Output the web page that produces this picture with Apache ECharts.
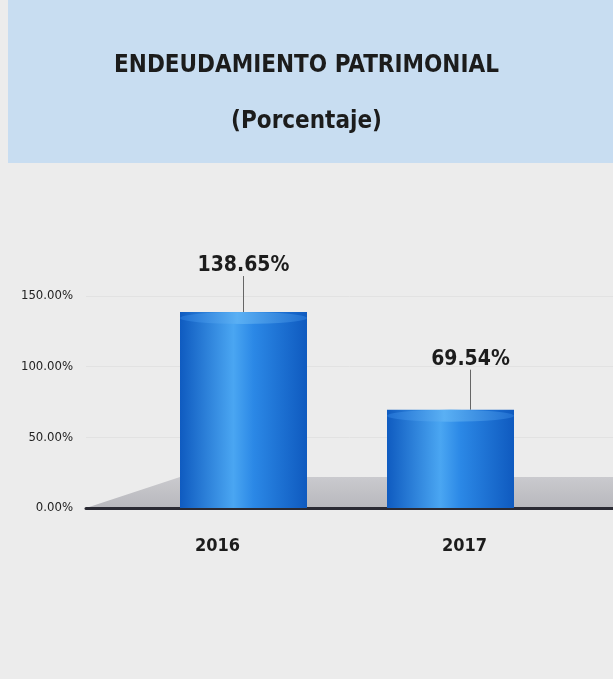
<!DOCTYPE html>
<html>
<head>
<meta charset="utf-8">
<script src="https://cdn.jsdelivr.net/npm/echarts@6/dist/echarts.min.js"></script>
<style>
  html, body { margin: 0; padding: 0; background: #ececec; }
  #chart { width: 613px; height: 679px; }
</style>
</head>
<body>
<div id="chart"></div>
<script>
// values
const years = ['2016', '2017'];
const endeudamiento = [138.65, 69.54];
const yTicks = { min: 0, max: 150, interval: 50 };

const font = '"DejaVu Sans Condensed", "Liberation Sans Narrow", sans-serif';

const chart = echarts.init(document.getElementById('chart'));

const cylinderFill = new echarts.graphic.LinearGradient(0, 0, 1, 0, [
    { offset: 0, color: '#0f5bc0' },
    { offset: 0.42, color: '#4aa6f2' },
    { offset: 0.58, color: '#2b88e6' },
    { offset: 1, color: '#0f5abf' }
]);

// label offsets, the picture is drawn in perspective
const labelShift = [[0, -30], [20, -34]];
// [top, right, bottom, left] padding nudges the year labels
const yearPad = [[0, 52, 0, 0], [0, 0, 0, 28]];

const option = {
    backgroundColor: '#ececec',
    animation: false,
    title: {
        text: 'ENDEUDAMIENTO PATRIMONIAL\n(Porcentaje)',
        left: 'center',
        top: 33,
        textStyle: {
            fontFamily: font,
            fontWeight: 'bold',
            fontSize: 24,
            lineHeight: 56,
            color: '#1c1c1c'
        }
    },
    graphic: [
        {
            type: 'rect',
            z: -10,
            shape: { x: 8, y: 0, width: 613, height: 163 },
            style: { fill: '#c8ddf1' }
        },
        {
            // grey floor under the cylinders
            type: 'polygon',
            z: -5,
            shape: { points: [[86, 508], [180, 477], [613, 477], [613, 508]] },
            style: {
                fill: new echarts.graphic.LinearGradient(0, 0, 0, 1, [
                    { offset: 0, color: '#cacace' },
                    { offset: 1, color: '#b8b8bd' }
                ])
            }
        }
    ],
    grid: [
        // axes frame
        { left: 86, right: 0, top: 296, bottom: 171 },
        // cylinders
        { left: 140, right: 59, top: 296, bottom: 171 }
    ],
    xAxis: [
        {
            gridIndex: 0,
            type: 'category',
            data: years,
            axisTick: { show: false },
            axisLabel: { show: false },
            axisLine: { lineStyle: { color: '#2a2a33', width: 3 } }
        },
        {
            gridIndex: 1,
            type: 'category',
            data: years,
            axisTick: { show: false },
            axisLine: { show: false },
            axisLabel: {
                margin: 29,
                formatter: (v, i) => '{y' + i + '|' + v + '}',
                rich: {
                    y0: { padding: yearPad[0], fontFamily: font, fontWeight: 'bold', fontSize: 18, color: '#1c1c1c' },
                    y1: { padding: yearPad[1], fontFamily: font, fontWeight: 'bold', fontSize: 18, color: '#1c1c1c' }
                }
            }
        }
    ],
    yAxis: [
        {
            gridIndex: 0,
            type: 'value',
            min: yTicks.min,
            max: yTicks.max,
            interval: yTicks.interval,
            axisLine: { show: false },
            axisTick: { show: false },
            splitLine: { lineStyle: { color: '#e2e2e2', width: 1 } },
            axisLabel: {
                margin: 13,
                fontFamily: font,
                fontSize: 13,
                color: '#222',
                formatter: v => v.toFixed(2) + '%'
            }
        },
        {
            gridIndex: 1,
            type: 'value',
            min: yTicks.min,
            max: yTicks.max,
            interval: yTicks.interval,
            show: false
        }
    ],
    series: [
        {
            type: 'bar',
            xAxisIndex: 1,
            yAxisIndex: 1,
            data: endeudamiento,
            barWidth: 127,
            itemStyle: { color: cylinderFill },
            label: {
                show: true,
                position: 'top',
                distance: 6,
                fontFamily: font,
                fontWeight: 'bold',
                fontSize: 21,
                color: '#1c1c1c',
                formatter: p => p.value.toFixed(2) + '%'
            },
            labelLayout: p => ({ dx: labelShift[p.dataIndex][0], dy: labelShift[p.dataIndex][1] }),
            labelLine: { show: true, lineStyle: { color: '#666', width: 1 } }
        },
        {
            // cylinder cap
            type: 'pictorialBar',
            xAxisIndex: 1,
            yAxisIndex: 1,
            data: endeudamiento,
            symbol: 'circle',
            symbolSize: [127, 12],
            symbolPosition: 'end',
            z: 3,
            itemStyle: {
                color: new echarts.graphic.LinearGradient(0, 0, 1, 0, [
                    { offset: 0, color: '#1f6fd2' },
                    { offset: 0.45, color: '#5ab0f4' },
                    { offset: 1, color: '#1f6ed0' }
                ])
            }
        }
    ]
};

chart.setOption(option);
</script>
</body>
</html>
